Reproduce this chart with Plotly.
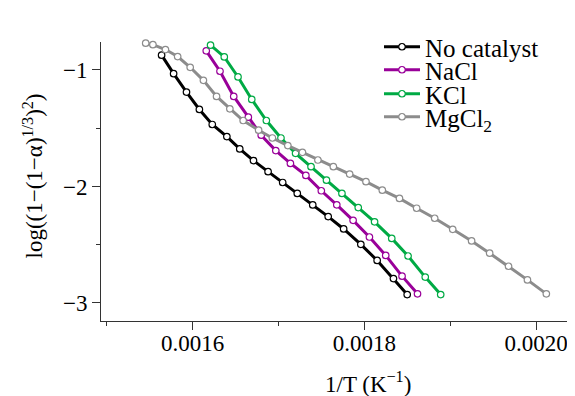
import plotly.graph_objects as go

# ---- data ----
x_none = [0.001564, 0.001578, 0.001593, 0.001608, 0.001623, 0.001640, 0.001655, 0.001671, 0.001688,
          0.001705, 0.001722, 0.001740, 0.001758, 0.001776, 0.001796, 0.001815, 0.001834, 0.001850]
y_none = [-0.873, -1.032, -1.190, -1.339, -1.468, -1.572, -1.678, -1.778, -1.873,
          -1.966, -2.060, -2.159, -2.259, -2.365, -2.497, -2.635, -2.791, -2.928]

x_nacl = [0.001616, 0.001632, 0.001648, 0.001665, 0.001680, 0.001697, 0.001714, 0.001732,
          0.001750, 0.001768, 0.001787, 0.001806, 0.001825, 0.001844, 0.001862]
y_nacl = [-0.836, -1.011, -1.227, -1.405, -1.560, -1.692, -1.802, -1.905,
          -2.037, -2.158, -2.291, -2.434, -2.592, -2.770, -2.922]

x_kcl = [0.001621, 0.001637, 0.001653, 0.001669, 0.001686, 0.001703, 0.001720, 0.001738,
         0.001756, 0.001774, 0.001793, 0.001812, 0.001832, 0.001851, 0.001871, 0.001889]
y_kcl = [-0.787, -0.888, -1.060, -1.253, -1.434, -1.584, -1.716, -1.830,
         -1.946, -2.060, -2.181, -2.304, -2.446, -2.597, -2.778, -2.928]

x_mgcl2 = [0.0015455, 0.0015539, 0.0015685, 0.0015827, 0.0015973, 0.0016127, 0.001628, 0.0016435,
           0.001659, 0.001677, 0.001693, 0.001711, 0.001728, 0.001746, 0.001764, 0.001783,
           0.001802, 0.001821, 0.001841, 0.001861, 0.001882, 0.001903, 0.001925, 0.001946,
           0.001968, 0.001990, 0.002012]
y_mgcl2 = [-0.770, -0.783, -0.825, -0.885, -0.977, -1.089, -1.227, -1.334,
           -1.434, -1.517, -1.584, -1.649, -1.707, -1.773, -1.830, -1.894,
           -1.959, -2.032, -2.103, -2.187, -2.273, -2.368, -2.468, -2.573,
           -2.685, -2.802, -2.922]

names = ["No catalyst", "NaCl", "KCl", "MgCl<sub>2</sub>"]
colors = ["#000000", "#990099", "#00AA44", "#8C8C8C"]
xs_all = [x_none, x_nacl, x_kcl, x_mgcl2]
ys_all = [y_none, y_nacl, y_kcl, y_mgcl2]

x_title = "1/T (K<sup>\u22121</sup>)"
y_title = "log((1\u2212(1\u2212\u03b1)<sup>1/3</sup>)<sup>2</sup>)"

FONT = "Liberation Serif"
W, HT = 575, 396
L, R, T, B = 93, 0, 34, 83
PW, PH = W - L - R, HT - T - B
legend_rows_px = [39, 62, 86, 109]   # row centres (px from top)
legend_left_px = 371

fig = go.Figure()
layout_legends = {}
for i, (name, xs, ys, col) in enumerate(zip(names, xs_all, ys_all, colors)):
    key = "legend" if i == 0 else f"legend{i+1}"
    fig.add_trace(go.Scatter(
        x=xs, y=ys, name=name, mode="lines+markers",
        line=dict(color=col, width=3),
        marker=dict(symbol="circle", size=6.5, color="white",
                    line=dict(color=col, width=1.2)),
        cliponaxis=False,
        legend=key,
    ))
    layout_legends[key] = dict(
        x=(legend_left_px - L) / PW,
        y=1 - (legend_rows_px[i] - T) / PH,
        xanchor="left", yanchor="middle",
        bgcolor="rgba(0,0,0,0)",
        font=dict(family=FONT, size=25, color="black"),
        itemwidth=36,
    )

fig.update_layout(
    width=W, height=HT,
    margin=dict(l=L, r=R, t=T, b=B),
    paper_bgcolor="white", plot_bgcolor="white",
    font=dict(family=FONT, size=23, color="black"),
    showlegend=True,
    **layout_legends,
    annotations=[
        dict(text=x_title, xref="paper", yref="paper", x=(360 - L) / PW,
             y=1 - (374 - T) / PH, xanchor="center", yanchor="middle",
             showarrow=False, font=dict(family=FONT, size=23)),
        dict(text=y_title, xref="paper", yref="paper", x=(25 - L) / PW, y=0.518,
             xanchor="center", yanchor="middle", textangle=-90,
             showarrow=False, font=dict(family=FONT, size=23)),
    ],
)
fig.update_xaxes(
    range=[0.00149345, 0.0020547], showgrid=False, zeroline=False,
    showline=True, linecolor="#333333", linewidth=1,
    ticks="outside", ticklen=8, tickcolor="#333333",
    tick0=0, dtick=0.0002, tickformat=".4f", ticklabelstandoff=-7,
    minor=dict(ticks="outside", ticklen=4, tickcolor="#333333", dtick=0.0001, showgrid=False),
)
fig.update_yaxes(
    range=[-3.155, -0.76], showgrid=False, zeroline=False,
    showline=True, linecolor="#333333", linewidth=1,
    ticks="outside", ticklen=8, tickcolor="#333333",
    tick0=0, dtick=1,
    minor=dict(ticks="outside", ticklen=4, tickcolor="#333333", dtick=0.5, showgrid=False),
)

fig.write_html("out.html")
